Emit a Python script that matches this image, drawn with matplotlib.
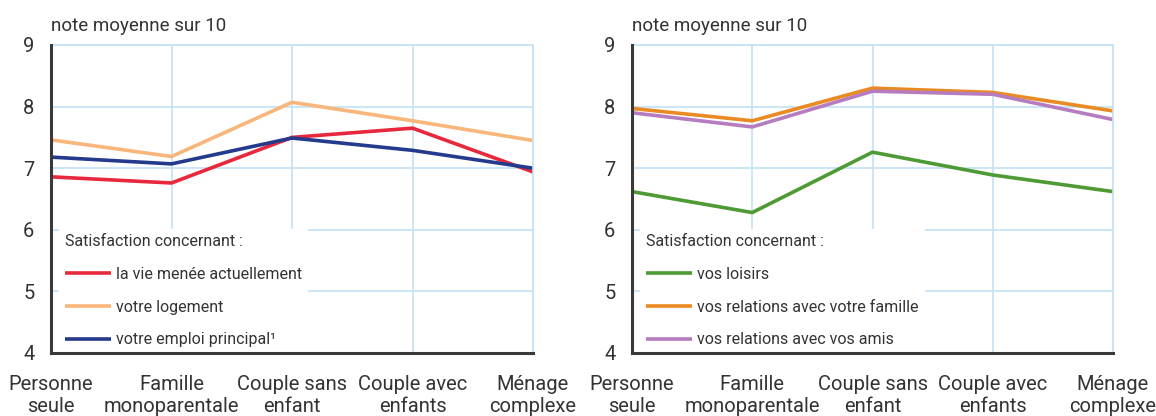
import matplotlib
matplotlib.use("Agg")
import matplotlib.pyplot as plt

categories = ["Personne\nseule", "Famille\nmonoparentale", "Couple sans\nenfant",
              "Couple avec\nenfants", "Ménage\ncomplexe"]

# left panel
vie = [6.86, 6.76, 7.50, 7.65, 6.94]
logement = [7.46, 7.19, 8.07, 7.77, 7.45]
emploi = [7.18, 7.07, 7.49, 7.29, 7.00]

# right panel
loisirs = [6.62, 6.28, 7.26, 6.89, 6.62]
famille = [7.97, 7.77, 8.30, 8.23, 7.93]
amis = [7.90, 7.67, 8.25, 8.20, 7.79]

plt.rcParams["font.family"] = ["Roboto", "DejaVu Sans"]

grid_col = "#c4e2f6"
text_col = "#333333"

fig = plt.figure(figsize=(11.56, 4.16), dpi=100)
ax1 = fig.add_axes([51 / 1156, 1 - 353 / 416, 482 / 1156, 308 / 416])
ax2 = fig.add_axes([632 / 1156, 1 - 353 / 416, 481 / 1156, 308 / 416])

panels = [
    (ax1, [("la vie menée actuellement", vie, "#e8283c"),
           ("votre logement", logement, "#f9b67a"),
           ("votre emploi principal¹", emploi, "#243a8c")]),
    (ax2, [("vos loisirs", loisirs, "#4e9a34"),
           ("vos relations avec votre famille", famille, "#ea8a22"),
           ("vos relations avec vos amis", amis, "#b67cc0")]),
]

x = range(len(categories))
for ax, series in panels:
    for label, vals, col in series:
        ax.plot(x, vals, color=col, lw=2.6, label=label, solid_capstyle="butt")
    ax.set_xlim(0, 4)
    ax.set_ylim(4, 9)
    ax.set_yticks([4, 5, 6, 7, 8, 9])
    ax.set_xticks(list(x))
    ax.set_xticklabels(categories, fontsize=14, color=text_col, linespacing=1.2)
    ax.tick_params(axis="both", length=0, labelsize=14.5, colors=text_col)
    ax.tick_params(axis="x", pad=16)
    ax.tick_params(axis="y", pad=12)
    ax.grid(True, color=grid_col, lw=1.2)
    ax.set_axisbelow(True)
    for s in ["top", "right"]:
        ax.spines[s].set_color(grid_col)
        ax.spines[s].set_linewidth(1.2)
    for s in ["left", "bottom"]:
        ax.spines[s].set_color("#3a3a3a")
        ax.spines[s].set_linewidth(2.2)
        ax.spines[s].set_zorder(3)
    ax.text(0.0, 1.062, "note moyenne sur 10", transform=ax.transAxes,
            fontsize=13.5, color=text_col, va="center", ha="left")
    leg = ax.legend(loc="lower left", bbox_to_anchor=(0.0, -0.025), frameon=True,
                    title="Satisfaction concernant :", fontsize=11.5,
                    title_fontsize=11.5, handlelength=2.9, handletextpad=0.3,
                    labelspacing=1.1, borderpad=0.35, alignment="left")
    leg.set_zorder(2.2)
    leg.get_frame().set_facecolor("white")
    leg.get_frame().set_edgecolor("white")
    leg.get_frame().set_alpha(1)
    leg.get_frame().set_boxstyle("square", pad=0)
    leg.get_title().set_color(text_col)
    for t in leg.get_texts():
        t.set_color(text_col)

fig.savefig("out.png", dpi=100, facecolor="white")
